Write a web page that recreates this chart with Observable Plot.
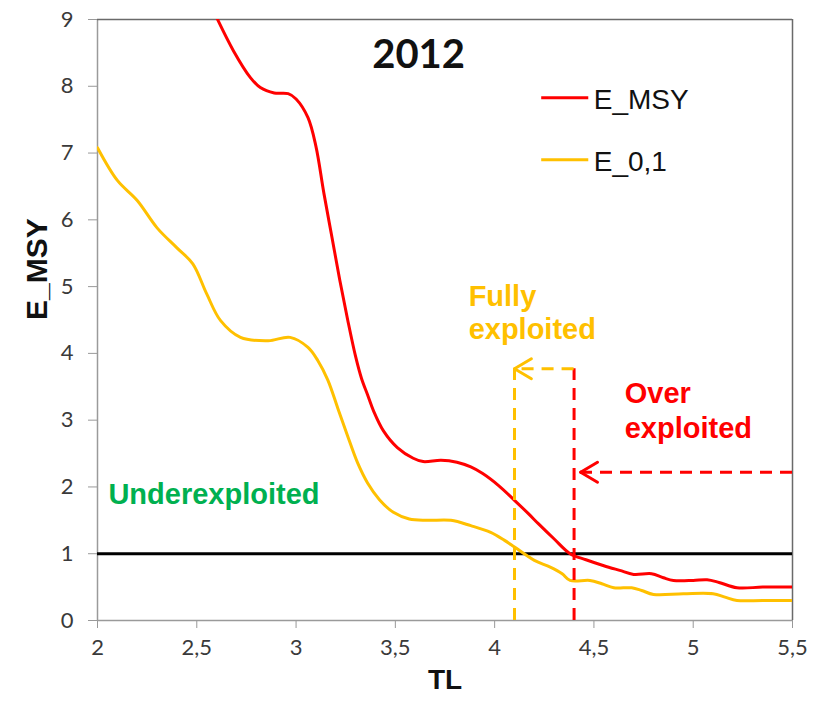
<!DOCTYPE html>
<html>
<head>
<meta charset="utf-8">
<script src="https://cdn.jsdelivr.net/npm/d3@7"></script>
<script src="https://cdn.jsdelivr.net/npm/@observablehq/plot@0.6"></script>
<style>
  html, body { margin: 0; padding: 0; background: #fff; }
  #chart svg { display: block; }
</style>
</head>
<body>
<div id="chart"></div>
<script>
// Exploitation effort reference points against trophic level (TL), 2012
const msyTL = [2.60, 2.685, 2.77, 2.82, 2.89, 2.96, 3.00, 3.06, 3.10, 3.14, 3.18, 3.22, 3.26, 3.30, 3.33, 3.36, 3.39, 3.44, 3.51, 3.59, 3.64, 3.73, 3.81, 3.88, 3.94, 4.02, 4.10, 4.17, 4.22, 4.30, 4.38, 4.46, 4.55, 4.63, 4.70, 4.79, 4.85, 4.90, 5.00, 5.07, 5.13, 5.22, 5.35, 5.50];
const msyValues = [9.03, 8.53, 8.13, 7.98, 7.90, 7.89, 7.81, 7.53, 7.10, 6.40, 5.75, 5.10, 4.50, 3.95, 3.62, 3.38, 3.14, 2.84, 2.59, 2.43, 2.38, 2.40, 2.37, 2.30, 2.20, 2.02, 1.80, 1.60, 1.45, 1.22, 1.00, 0.91, 0.82, 0.75, 0.69, 0.70, 0.64, 0.60, 0.60, 0.61, 0.57, 0.49, 0.50, 0.50];

const e01TL = [2.00, 2.10, 2.20, 2.30, 2.40, 2.48, 2.55, 2.62, 2.72, 2.86, 2.97, 3.06, 3.11, 3.16, 3.21, 3.26, 3.31, 3.36, 3.42, 3.49, 3.57, 3.66, 3.78, 3.88, 3.98, 4.05, 4.10, 4.20, 4.28, 4.34, 4.38, 4.48, 4.54, 4.60, 4.69, 4.74, 4.80, 4.95, 5.10, 5.16, 5.22, 5.35, 5.50];
const e01Values = [7.08, 6.59, 6.29, 5.88, 5.58, 5.34, 4.89, 4.49, 4.24, 4.19, 4.24, 4.09, 3.89, 3.60, 3.18, 2.76, 2.36, 2.06, 1.81, 1.62, 1.52, 1.50, 1.50, 1.42, 1.32, 1.20, 1.10, 0.90, 0.80, 0.70, 0.60, 0.60, 0.55, 0.49, 0.49, 0.45, 0.39, 0.40, 0.40, 0.35, 0.30, 0.30, 0.30];

const seriesNames = ["E_MSY", "E_0,1"];
const seriesColors = ["#FF0000", "#FFC000"];

const xTicks = [2, 2.5, 3, 3.5, 4, 4.5, 5, 5.5];
const yTicks = [0, 1, 2, 3, 4, 5, 6, 7, 8, 9];

// Thresholds: E = 1 reference line, TL where each curve crosses it
const referenceE = 1;
const fullyTL = 4.1;
const overTL = 4.4;
const guideTop = 3.77;
const overArrowE = 2.22;

const rows = [
  ...msyTL.map((tl, i) => ({series: seriesNames[0], tl, value: msyValues[i]})),
  ...e01TL.map((tl, i) => ({series: seriesNames[1], tl, value: e01Values[i]}))
];

const red = seriesColors[0];
const gold = seriesColors[1];
const green = "#00B050";
const dash = "12,8";
const boldFont = "'Liberation Sans', Arial, sans-serif";
const tickFont = "Lato, 'Open Sans', sans-serif";
const tickColor = "#3a3a3a";

const xMin = xTicks[0], xMax = xTicks[xTicks.length - 1];
const yMin = yTicks[0], yMax = yTicks[yTicks.length - 1];

// open chevron arrowhead pointing left, tip at (x, y)
const wingX = 0.085, wingY = 0.15;
function chevron(x, y, color) {
  return Plot.link([-1, 1], {x1: x, y1: y, x2: x + wingX, y2: d => y + d * wingY,
    stroke: color, strokeWidth: 3, strokeLinecap: "round"});
}

const chart = Plot.plot({
  width: 821,
  height: 702,
  marginLeft: 97,
  marginRight: 29,
  marginTop: 19,
  marginBottom: 82,
  style: {fontFamily: tickFont, background: "#fff", overflow: "visible"},
  x: {domain: [xMin, xMax]},
  y: {domain: [yMin, yMax]},
  color: {domain: seriesNames, range: seriesColors},
  marks: [
    // tick marks (labels drawn below as text marks)
    Plot.axisX({ticks: xTicks, tickFormat: () => "", tickSize: 8, stroke: "#999", label: null}),
    Plot.axisY({ticks: yTicks, tickFormat: () => "", tickSize: 9, stroke: "#999", label: null}),
    Plot.text(xTicks, {x: d => d, frameAnchor: "bottom", dy: 34, text: d => String(d).replace(".", ","),
      fontSize: 22, fontFamily: tickFont, fill: tickColor}),
    Plot.text(yTicks, {y: d => d, frameAnchor: "left", dx: -24, textAnchor: "end", text: d => String(d),
      fontSize: 22, fontFamily: tickFont, fill: tickColor}),
    Plot.ruleX([xMin], {stroke: "#9a9a9a", strokeWidth: 1.5}),
    Plot.ruleY([yMin], {stroke: "#9a9a9a", strokeWidth: 1.5}),
    Plot.ruleY([yMax], {stroke: "#6a6a6a", strokeWidth: 1.5}),
    Plot.ruleX([xMax], {stroke: "#6a6a6a", strokeWidth: 1.5}),

    // axis titles
    Plot.text(["TL"], {frameAnchor: "bottom", dy: 68, fontSize: 28, fontWeight: "bold",
      fontFamily: boldFont, fill: "#111"}),
    Plot.text(["E_MSY"], {frameAnchor: "left", dx: -60, rotate: -90, fontSize: 30, fontWeight: "bold",
      fontFamily: boldFont, fill: "#111"}),

    // E = 1 reference
    Plot.ruleY([referenceE], {stroke: "#000", strokeWidth: 3}),

    // curves
    Plot.line(rows, {x: "tl", y: "value", z: "series", stroke: "series", strokeWidth: 3,
      curve: "catmull-rom", clip: true}),

    // dashed guides with arrowheads
    Plot.ruleX([fullyTL], {y1: 0, y2: guideTop, stroke: gold, strokeWidth: 3, strokeDasharray: dash}),
    Plot.ruleX([overTL], {y1: 0, y2: guideTop, stroke: red, strokeWidth: 3, strokeDasharray: dash}),
    Plot.ruleY([guideTop], {x1: overTL, x2: fullyTL, stroke: gold, strokeWidth: 3, strokeDasharray: dash}),
    chevron(fullyTL, guideTop, gold),
    Plot.ruleY([overArrowE], {x1: xMax, x2: overTL + 0.033, stroke: red, strokeWidth: 3, strokeDasharray: dash}),
    chevron(overTL + 0.033, overArrowE, red),

    // zone labels
    Plot.text(["Underexploited"], {x: 2.055, y: 1.89, textAnchor: "start", fontSize: 29, fontWeight: "bold",
      fontFamily: boldFont, fill: green}),
    Plot.text(["Fully", "exploited"], {x: 3.869, y: (d, i) => [4.85, 4.36][i], textAnchor: "start",
      fontSize: 29, fontWeight: "bold", fontFamily: boldFont, fill: gold}),
    Plot.text(["Over", "exploited"], {x: 4.655, y: (d, i) => [3.40, 2.87][i], textAnchor: "start",
      fontSize: 29, fontWeight: "bold", fontFamily: boldFont, fill: red}),

    // year
    Plot.text(["2012"], {x: 3.617, y: 8.46, fontSize: 40, fontWeight: "bold", fill: "#111"}),

    // legend
    Plot.ruleY(seriesNames, {x1: 4.237, x2: 4.474, y: (d, i) => [7.83, 6.90][i], stroke: d => d, strokeWidth: 3}),
    Plot.text(seriesNames, {x: 4.499, y: (d, i) => [7.80, 6.87][i], textAnchor: "start", fontSize: 28,
      fontFamily: "'Liberation Sans', Arial, sans-serif", fill: "#111"})
  ]
});

document.getElementById("chart").appendChild(chart);
</script>
</body>
</html>
